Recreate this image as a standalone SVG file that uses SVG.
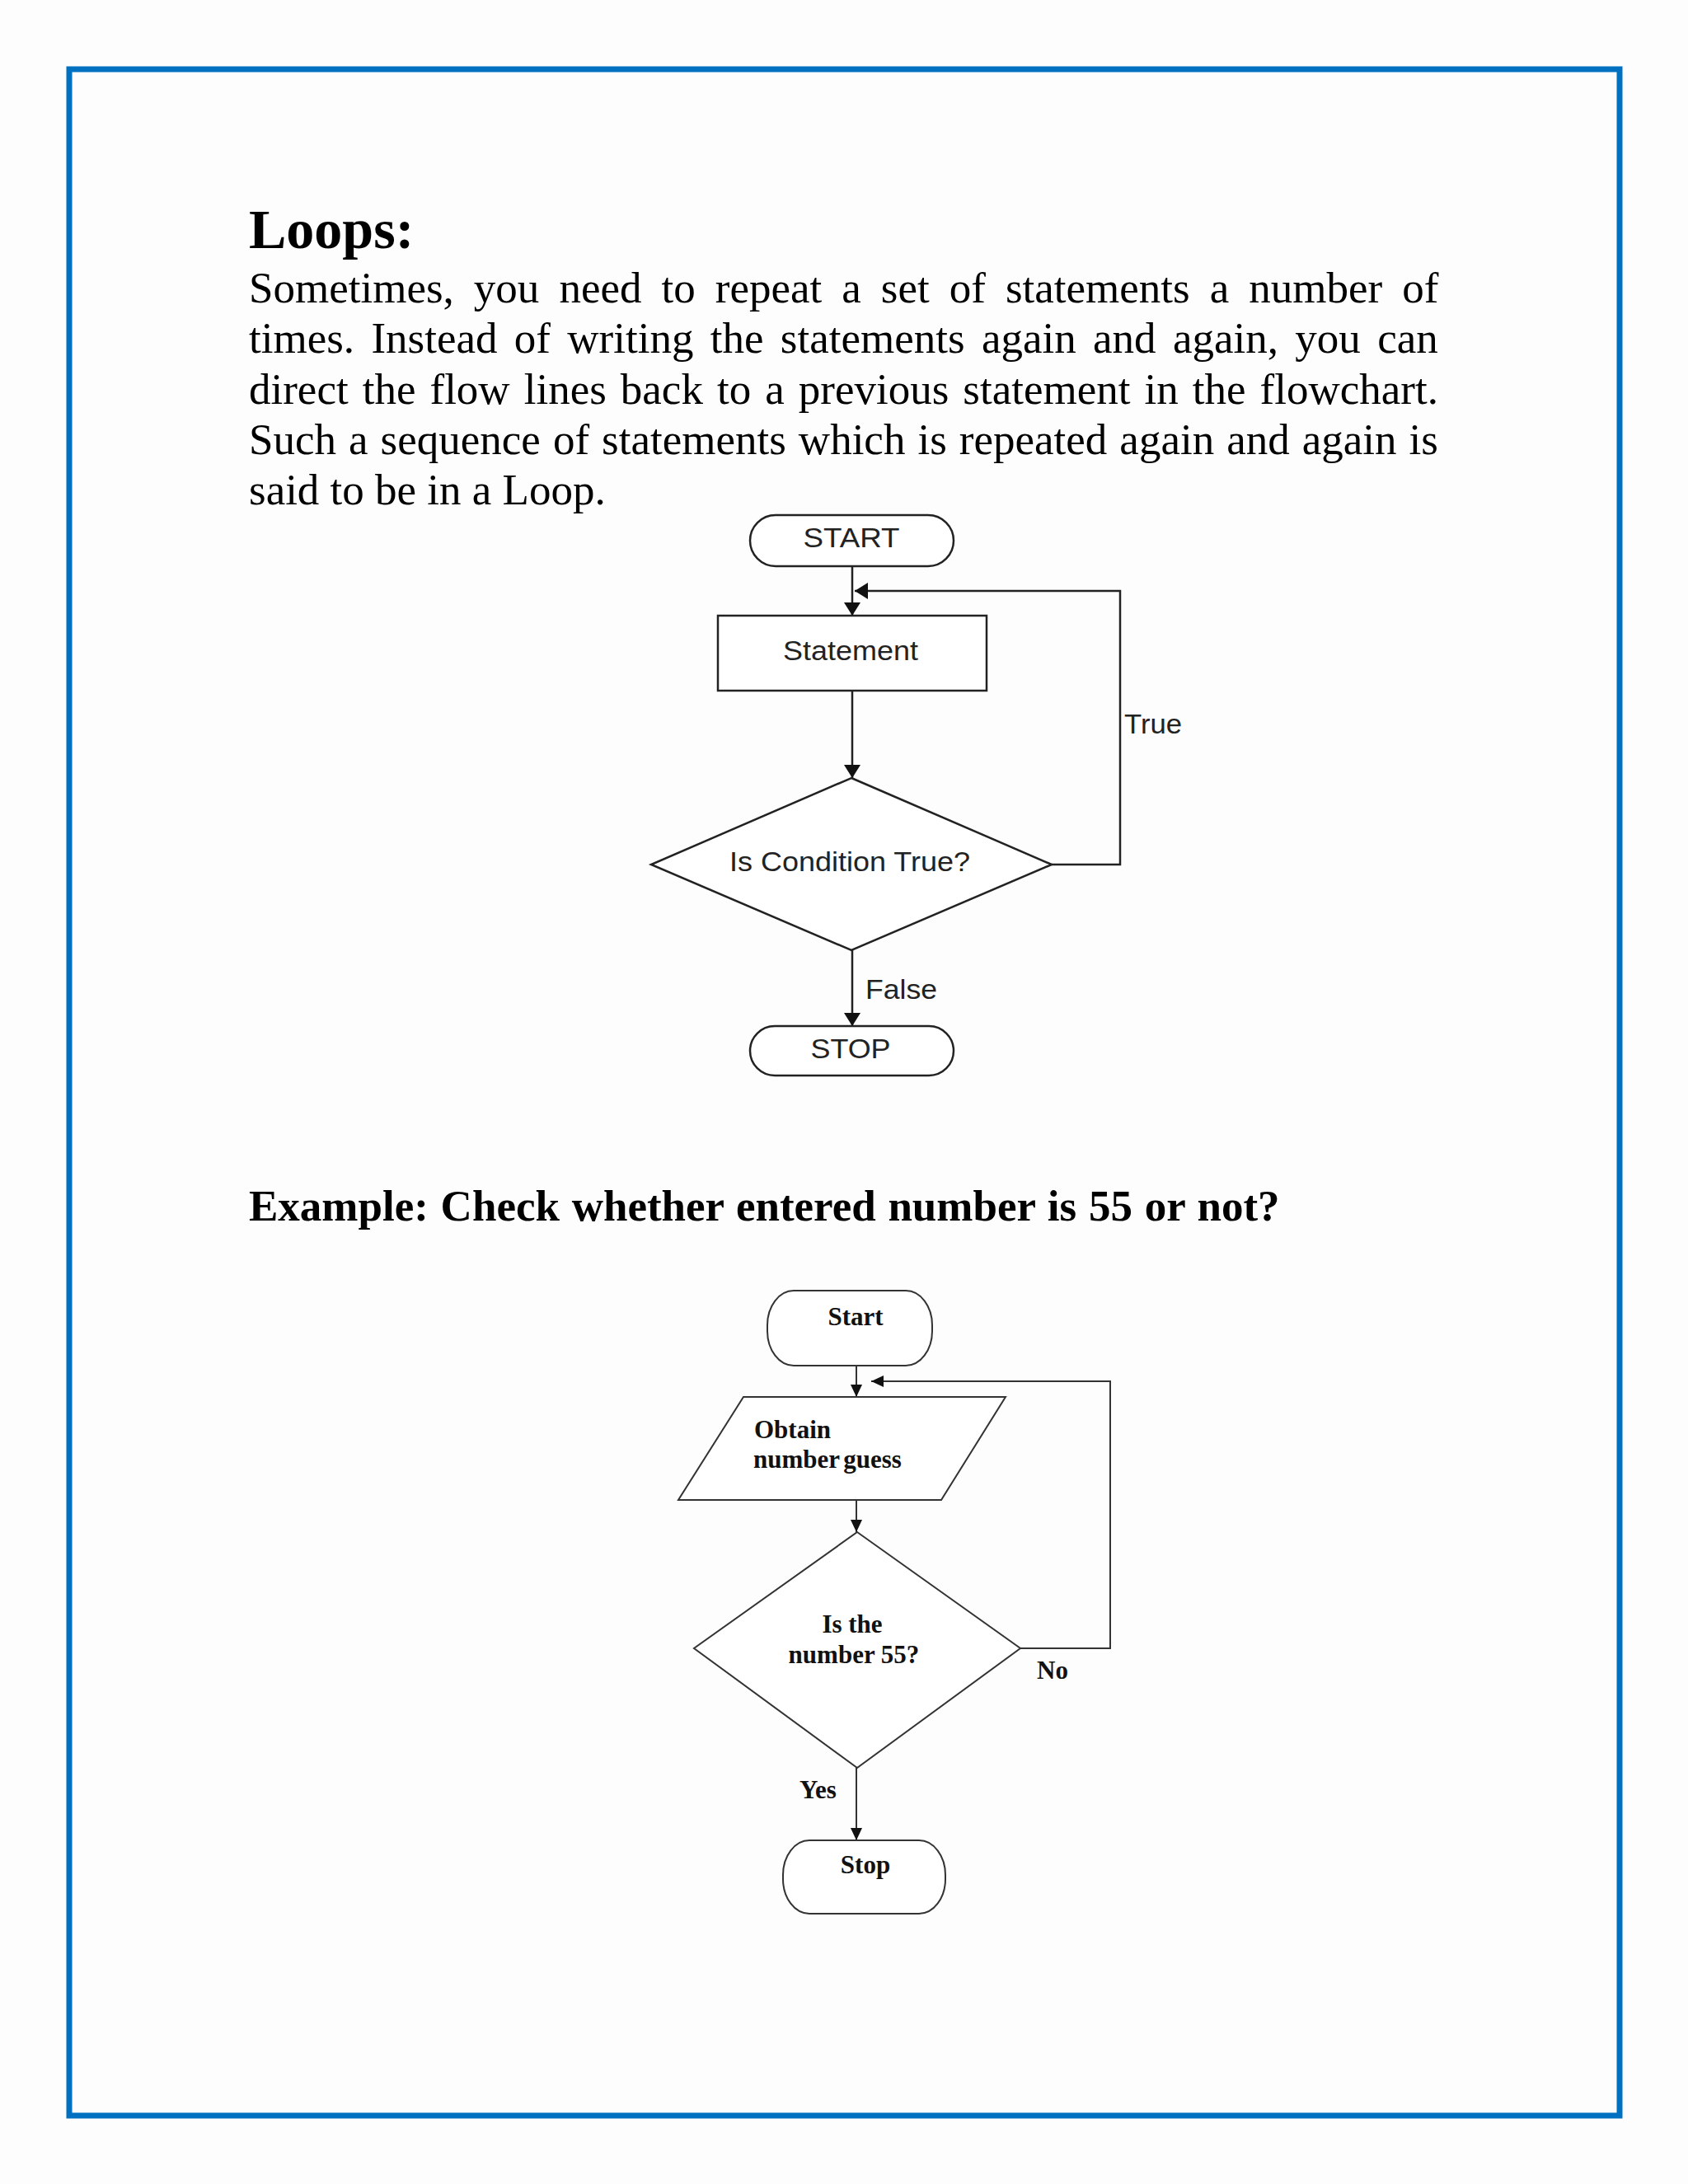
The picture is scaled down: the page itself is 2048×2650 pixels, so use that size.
<svg xmlns="http://www.w3.org/2000/svg" width="2048" height="2650" viewBox="0 0 2048 2650">
<style>
.body{font-family:"Liberation Serif","Times New Roman",serif;font-size:53px;fill:#000}
.h{font-family:"Liberation Serif","Times New Roman",serif;font-weight:bold;fill:#000}
.sans{font-family:"Liberation Sans",Arial,sans-serif;font-size:33px;fill:#222}
.tb{font-family:"Liberation Serif","Times New Roman",serif;font-weight:bold;font-size:31px;fill:#111}
.s1{fill:#fff;stroke:#222;stroke-width:2.5}
.s2{fill:#fff;stroke:#333;stroke-width:2}
.c1{fill:none;stroke:#222;stroke-width:2.5}
.c2{fill:none;stroke:#333;stroke-width:2}
</style>
<defs>
<marker id="a1" markerUnits="userSpaceOnUse" markerWidth="18" markerHeight="20" refX="16" refY="10" orient="auto"><path d="M0,0 L16,10 L0,20 z" fill="#111"/></marker>
<marker id="a2" markerUnits="userSpaceOnUse" markerWidth="16" markerHeight="16" refX="15" refY="8" orient="auto"><path d="M0,1 L15,8 L0,15 z" fill="#111"/></marker>
</defs>
<rect width="2048" height="2650" fill="#fdfdfd"/>
<rect x="84" y="84" width="1881" height="2483" fill="none" stroke="#0070C0" stroke-width="7"/>

<text class="h" x="302" y="301" font-size="68">Loops:</text>
<text class="body" x="302" y="367" word-spacing="10.8">Sometimes, you need to repeat a set of statements a number of</text>
<text class="body" x="302" y="428" word-spacing="7.1">times. Instead of writing the statements again and again, you can</text>
<text class="body" x="302" y="490" word-spacing="3.8">direct the flow lines back to a previous statement in the flowchart.</text>
<text class="body" x="302" y="551" word-spacing="1.8">Such a sequence of statements which is repeated again and again is</text>
<text class="body" x="302" y="612">said to be in a Loop.</text>

<g id="connectors1">
<path class="c1" d="M1034,687 V747" marker-end="url(#a1)"/>
<path class="c1" d="M1034,838 V944" marker-end="url(#a1)"/>
<path class="c1" d="M1034,1153 V1245" marker-end="url(#a1)"/>
<path class="c1" d="M1276,1049 H1359 V717 H1037" marker-end="url(#a1)"/>
<text class="sans" x="1364" y="890" textLength="70" lengthAdjust="spacingAndGlyphs">True</text>
<text class="sans" x="1050" y="1212" textLength="87" lengthAdjust="spacingAndGlyphs">False</text>
</g>
<g id="start1">
<rect class="s1" x="910" y="625" width="247" height="62" rx="31" ry="31"/>
<text class="sans" x="1033" y="664" text-anchor="middle" textLength="117" lengthAdjust="spacingAndGlyphs">START</text>
</g>
<g id="statement1">
<rect class="s1" x="871" y="747" width="326" height="91"/>
<text class="sans" x="1032" y="801" text-anchor="middle" textLength="164" lengthAdjust="spacingAndGlyphs">Statement</text>
</g>
<g id="decision1">
<polygon class="s1" points="1033,944 1276,1049 1033,1153 790,1049"/>
<text class="sans" x="1031" y="1057" text-anchor="middle" textLength="292" lengthAdjust="spacingAndGlyphs">Is Condition True?</text>
</g>
<g id="stop1">
<rect class="s1" x="910" y="1245" width="247" height="60" rx="30" ry="30"/>
<text class="sans" x="1032" y="1284" text-anchor="middle" textLength="97" lengthAdjust="spacingAndGlyphs">STOP</text>
</g>

<text class="h" x="302" y="1481" font-size="53" word-spacing="1.5">Example:  Check whether entered number is 55 or not?</text>

<g id="connectors2">
<path class="c2" d="M1039,1657 V1695" marker-end="url(#a2)"/>
<path class="c2" d="M1039,1820 V1859" marker-end="url(#a2)"/>
<path class="c2" d="M1039,2145 V2233" marker-end="url(#a2)"/>
<path class="c2" d="M1238,2000 H1347 V1676 H1057" marker-end="url(#a2)"/>
<text class="tb" x="1258" y="2037">No</text>
<text class="tb" x="970" y="2182">Yes</text>
</g>
<g id="start2">
<rect class="s2" x="931" y="1566" width="200" height="91" rx="32" ry="42"/>
<text class="tb" x="1038" y="1608" text-anchor="middle">Start</text>
</g>
<g id="input2">
<polygon class="s2" points="902,1695 1220,1695 1142,1820 823,1820"/>
<text class="tb" x="915" y="1745">Obtain</text>
<text class="tb" x="914" y="1781" word-spacing="-3">number guess</text>
</g>
<g id="decision2">
<polygon class="s2" points="1040,1859 1238,2000 1040,2145 842,2000"/>
<text class="tb" x="1034" y="1981" text-anchor="middle">Is the</text>
<text class="tb" x="1036" y="2018" text-anchor="middle">number 55?</text>
</g>
<g id="stop2">
<rect class="s2" x="950" y="2233" width="197" height="89" rx="32" ry="42"/>
<text class="tb" x="1050" y="2273" text-anchor="middle">Stop</text>
</g>
</svg>
